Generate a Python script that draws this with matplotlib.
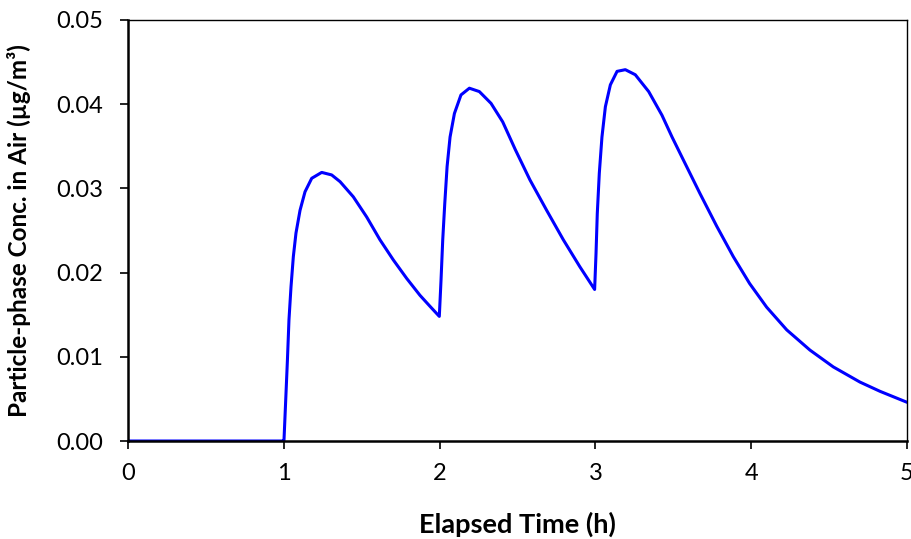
import matplotlib
matplotlib.use("Agg")
import matplotlib.pyplot as plt
import matplotlib.ticker as mticker

# Elapsed time (h) and particle-phase concentration (ug/m3)
time_h = [
    0.0, 1.0,
    1.001, 1.014, 1.023, 1.033, 1.046, 1.061, 1.078, 1.104, 1.136, 1.179,
    1.243, 1.307, 1.361, 1.446, 1.532, 1.617, 1.703, 1.789, 1.874, 1.938,
    1.998,
    2.009, 2.02, 2.033, 2.048, 2.067, 2.095, 2.137, 2.191, 2.255, 2.33,
    2.405, 2.486, 2.58, 2.687, 2.794, 2.90, 2.995,
    3.004, 3.012, 3.025, 3.042, 3.064, 3.096, 3.139, 3.192, 3.256, 3.342,
    3.427, 3.492, 3.564, 3.671, 3.779, 3.885, 3.99, 4.099, 4.228, 4.377,
    4.527, 4.698, 4.827, 5.0,
]
conc = [
    0.0, 0.0,
    0.0001, 0.0057, 0.0096, 0.0144, 0.0183, 0.0219, 0.0247, 0.0274, 0.0296,
    0.0312, 0.0319, 0.0316, 0.0308, 0.0290, 0.0266, 0.0239, 0.0215, 0.0193,
    0.0173, 0.0160, 0.0148,
    0.0191, 0.0239, 0.0282, 0.0326, 0.0361, 0.0389, 0.0411, 0.0419, 0.0415,
    0.0401, 0.0379, 0.0346, 0.0310, 0.0274, 0.0239, 0.0207, 0.0180,
    0.0223, 0.0270, 0.0318, 0.0361, 0.0397, 0.0423, 0.0439, 0.0441, 0.0435,
    0.0415, 0.0387, 0.0361, 0.0334, 0.0294, 0.0255, 0.0219, 0.0187, 0.0159,
    0.0132, 0.0108, 0.0088, 0.0070, 0.0059, 0.0046,
]

x_ticks = [0, 1, 2, 3, 4, 5]
y_ticks = [0.00, 0.01, 0.02, 0.03, 0.04, 0.05]

plt.rcParams["font.family"] = ["Lato", "DejaVu Sans"]

fig = plt.figure(figsize=(9.12, 5.39), dpi=100)
ax = fig.add_axes([0.1404, 0.1818, 0.8541, 0.7811])

ax.plot(time_h, conc, color="#0000FF", linewidth=2.2,
        solid_joinstyle="round", solid_capstyle="round")

ax.set_xlim(0, 5)
ax.set_ylim(0, 0.05)
ax.set_xticks(x_ticks)
ax.set_yticks(y_ticks)
ax.yaxis.set_major_formatter(mticker.FormatStrFormatter("%.2f"))

for side in ["left", "bottom"]:
    ax.spines[side].set_linewidth(1.8)
for side in ["top", "right"]:
    ax.spines[side].set_linewidth(1.0)

ax.tick_params(direction="out", length=6, width=1.2, labelsize=17)
ax.tick_params(axis="y", pad=12)
ax.tick_params(axis="x", pad=10)

ax.set_xlabel("Elapsed Time (h)", fontsize=19.5, fontweight="bold", labelpad=20)
ax.set_ylabel("Particle-phase Conc. in Air (µg/m³)", fontsize=17.5,
              fontweight="bold", labelpad=18)

fig.savefig("out.png", dpi=100)
